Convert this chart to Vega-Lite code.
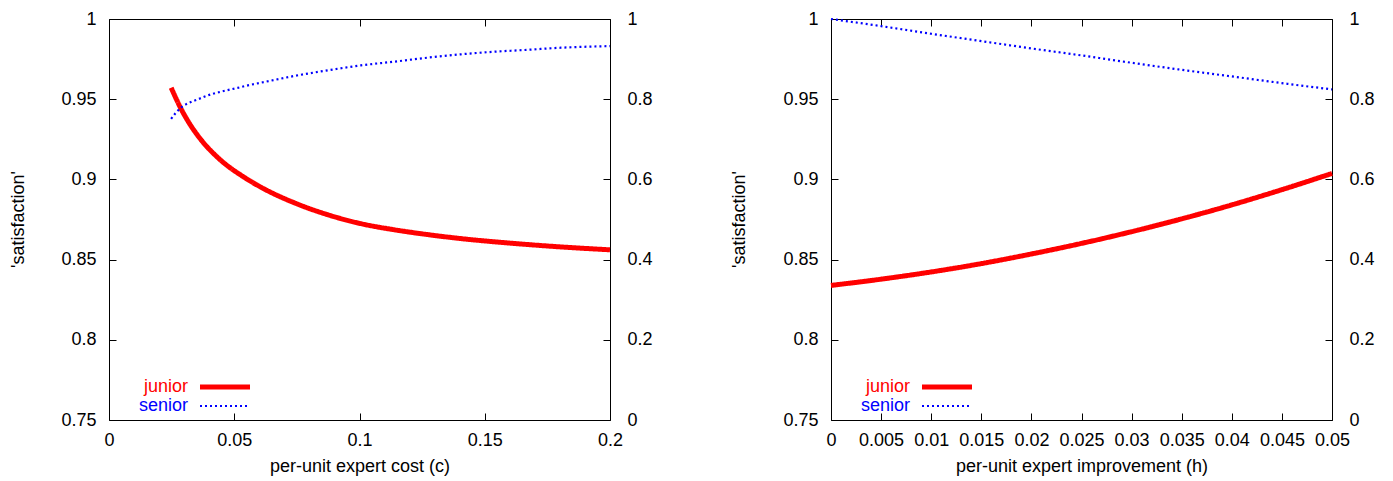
{
  "$schema": "https://vega.github.io/schema/vega-lite/v6.json",
  "padding": {"left": 9, "top": 10, "right": 5, "bottom": 5},
  "background": "white",
  "config": {
    "font": "Liberation Sans",
    "view": {"stroke": null},
    "axis": {
      "labelFont": "Liberation Sans", "labelFontSize": 18, "labelColor": "#000",
      "titleFont": "Liberation Sans", "titleFontSize": 18, "titleFontWeight": "normal", "titleColor": "#000",
      "domainColor": "#000", "domainWidth": 1, "tickColor": "#000", "tickWidth": 1,
      "grid": false, "tickSize": -7, "labelFlush": false, "labelOverlap": false, "labelBound": false
    },
    "legend": {
      "labelFont": "Liberation Sans", "labelFontSize": 18
    }
  },
  "datasets": {
    "curves": [
      {"panel": "c", "series": "junior", "x": 0.0248, "v": 0.9572},
      {"panel": "c", "series": "junior", "x": 0.029, "v": 0.9433},
      {"panel": "c", "series": "junior", "x": 0.0321, "v": 0.9349},
      {"panel": "c", "series": "junior", "x": 0.0367, "v": 0.9248},
      {"panel": "c", "series": "junior", "x": 0.044, "v": 0.9128},
      {"panel": "c", "series": "junior", "x": 0.054, "v": 0.9013},
      {"panel": "c", "series": "junior", "x": 0.0607, "v": 0.8951},
      {"panel": "c", "series": "junior", "x": 0.074, "v": 0.8854},
      {"panel": "c", "series": "junior", "x": 0.0873, "v": 0.878},
      {"panel": "c", "series": "junior", "x": 0.1006, "v": 0.8724},
      {"panel": "c", "series": "junior", "x": 0.1139, "v": 0.8686},
      {"panel": "c", "series": "junior", "x": 0.1272, "v": 0.8656},
      {"panel": "c", "series": "junior", "x": 0.1405, "v": 0.8631},
      {"panel": "c", "series": "junior", "x": 0.1538, "v": 0.8611},
      {"panel": "c", "series": "junior", "x": 0.1671, "v": 0.8594},
      {"panel": "c", "series": "junior", "x": 0.1804, "v": 0.8579},
      {"panel": "c", "series": "junior", "x": 0.2, "v": 0.8561},
      {"panel": "c", "series": "senior", "x": 0.0248, "v": 0.751},
      {"panel": "c", "series": "senior", "x": 0.0267, "v": 0.766},
      {"panel": "c", "series": "senior", "x": 0.0287, "v": 0.7786},
      {"panel": "c", "series": "senior", "x": 0.0307, "v": 0.787},
      {"panel": "c", "series": "senior", "x": 0.0327, "v": 0.7928},
      {"panel": "c", "series": "senior", "x": 0.0354, "v": 0.7995},
      {"panel": "c", "series": "senior", "x": 0.038, "v": 0.806},
      {"panel": "c", "series": "senior", "x": 0.0407, "v": 0.812},
      {"panel": "c", "series": "senior", "x": 0.044, "v": 0.8177},
      {"panel": "c", "series": "senior", "x": 0.0474, "v": 0.8227},
      {"panel": "c", "series": "senior", "x": 0.0514, "v": 0.8284},
      {"panel": "c", "series": "senior", "x": 0.0554, "v": 0.8344},
      {"panel": "c", "series": "senior", "x": 0.0607, "v": 0.8412},
      {"panel": "c", "series": "senior", "x": 0.074, "v": 0.858},
      {"panel": "c", "series": "senior", "x": 0.0873, "v": 0.872},
      {"panel": "c", "series": "senior", "x": 0.1006, "v": 0.8844},
      {"panel": "c", "series": "senior", "x": 0.1139, "v": 0.8936},
      {"panel": "c", "series": "senior", "x": 0.1272, "v": 0.9036},
      {"panel": "c", "series": "senior", "x": 0.1405, "v": 0.912},
      {"panel": "c", "series": "senior", "x": 0.1538, "v": 0.9184},
      {"panel": "c", "series": "senior", "x": 0.1671, "v": 0.9232},
      {"panel": "c", "series": "senior", "x": 0.1804, "v": 0.9284},
      {"panel": "c", "series": "senior", "x": 0.2, "v": 0.9324},
      {"panel": "h", "series": "junior", "x": 0, "v": 0.8339},
      {"panel": "h", "series": "junior", "x": 0.005, "v": 0.8378},
      {"panel": "h", "series": "junior", "x": 0.01, "v": 0.8423},
      {"panel": "h", "series": "junior", "x": 0.015, "v": 0.8475},
      {"panel": "h", "series": "junior", "x": 0.02, "v": 0.8535},
      {"panel": "h", "series": "junior", "x": 0.025, "v": 0.8601},
      {"panel": "h", "series": "junior", "x": 0.03, "v": 0.8674},
      {"panel": "h", "series": "junior", "x": 0.035, "v": 0.8754},
      {"panel": "h", "series": "junior", "x": 0.04, "v": 0.8841},
      {"panel": "h", "series": "junior", "x": 0.045, "v": 0.8936},
      {"panel": "h", "series": "junior", "x": 0.05, "v": 0.9037},
      {"panel": "h", "series": "senior", "x": 0, "v": 1.0},
      {"panel": "h", "series": "senior", "x": 0.005, "v": 0.9823},
      {"panel": "h", "series": "senior", "x": 0.01, "v": 0.9632},
      {"panel": "h", "series": "senior", "x": 0.015, "v": 0.9449},
      {"panel": "h", "series": "senior", "x": 0.02, "v": 0.9266},
      {"panel": "h", "series": "senior", "x": 0.025, "v": 0.9092},
      {"panel": "h", "series": "senior", "x": 0.03, "v": 0.8908},
      {"panel": "h", "series": "senior", "x": 0.035, "v": 0.8733},
      {"panel": "h", "series": "senior", "x": 0.04, "v": 0.8568},
      {"panel": "h", "series": "senior", "x": 0.045, "v": 0.8401},
      {"panel": "h", "series": "senior", "x": 0.05, "v": 0.8244}
    ]
  },
  "spacing": 221,
  "bounds": "flush",
  "resolve": {"scale": {"color": "independent", "strokeDash": "independent", "strokeWidth": "independent"}},
  "hconcat": [
    {
      "width": 501, "height": 401,
      "data": {"name": "curves"},
      "transform": [{"filter": "datum.panel == 'c'"}],
      "layer": [
        {
          "transform": [{"filter": "datum.series == 'junior'"}],
          "mark": {"type": "line", "interpolate": "monotone"},
          "encoding": {
            "x": {"field": "x", "type": "quantitative", "scale": {"domain": [0, 0.2], "nice": false, "zero": false},
              "axis": {"values": [0, 0.05, 0.1, 0.15, 0.2], "format": "~g", "title": "per-unit expert cost (c)", "labelPadding": 18, "titleY": 37, "titleBaseline": "top"}},
            "y": {"field": "v", "type": "quantitative", "scale": {"domain": [0.75, 1], "nice": false, "zero": false},
              "axis": {"orient": "left", "values": [0.75, 0.8, 0.85, 0.9, 0.95, 1], "format": ".2~f", "title": "'satisfaction'", "labelPadding": 20, "titleX": -91, "titleY": 200, "titleBaseline": "middle"}},
            "color": {"field": "series", "type": "nominal", "scale": {"domain": ["junior", "senior"], "range": ["#ff0000", "#0000ff"]},
              "legend": {"title": null, "orient": "none", "legendX": 107, "legendY": 359, "padding": 0, "symbolType": "M-4,0H4", "symbolSize": 156.25, "labelAlign": "right", "labelOffset": -46, "rowPadding": 0, "labelColor": {"expr": "datum.value == 'junior' ? '#ff0000' : '#0000ff'"}}},
            "strokeDash": {"field": "series", "type": "nominal", "scale": {"domain": ["junior", "senior"], "range": [[1, 0], [2, 3]]}},
            "strokeWidth": {"field": "series", "type": "nominal", "scale": {"domain": ["junior", "senior"], "range": [5, 2.2]}}
          }
        },
        {
          "transform": [{"filter": "datum.series == 'senior'"}],
          "mark": {"type": "line", "interpolate": "monotone"},
          "encoding": {
            "x": {"field": "x", "type": "quantitative", "scale": {"domain": [0, 0.2], "nice": false, "zero": false},
              "axis": {"orient": "top", "values": [0, 0.05, 0.1, 0.15, 0.2], "labels": false, "title": null}},
            "y": {"field": "v", "type": "quantitative", "scale": {"domain": [0, 1], "nice": false, "zero": false},
              "axis": {"orient": "right", "values": [0, 0.2, 0.4, 0.6, 0.8, 1], "format": "~g", "title": null, "labelPadding": 24}},
            "color": {"field": "series", "type": "nominal", "scale": {"domain": ["junior", "senior"], "range": ["#ff0000", "#0000ff"]}},
            "strokeDash": {"field": "series", "type": "nominal", "scale": {"domain": ["junior", "senior"], "range": [[1, 0], [2, 3]]}},
            "strokeWidth": {"field": "series", "type": "nominal", "scale": {"domain": ["junior", "senior"], "range": [5, 2.2]}}
          }
        }
      ],
      "resolve": {"scale": {"y": "independent"}, "axis": {"x": "independent", "y": "independent"}}
    },
    {
      "width": 501, "height": 401,
      "data": {"name": "curves"},
      "transform": [{"filter": "datum.panel == 'h'"}],
      "layer": [
        {
          "transform": [{"filter": "datum.series == 'junior'"}],
          "mark": {"type": "line", "interpolate": "monotone"},
          "encoding": {
            "x": {"field": "x", "type": "quantitative", "scale": {"domain": [0, 0.05], "nice": false, "zero": false},
              "axis": {"values": [0, 0.005, 0.01, 0.015, 0.02, 0.025, 0.03, 0.035, 0.04, 0.045, 0.05], "format": "~g", "title": "per-unit expert improvement (h)", "labelPadding": 18, "titleY": 37, "titleBaseline": "top"}},
            "y": {"field": "v", "type": "quantitative", "scale": {"domain": [0.75, 1], "nice": false, "zero": false},
              "axis": {"orient": "left", "values": [0.75, 0.8, 0.85, 0.9, 0.95, 1], "format": ".2~f", "title": "'satisfaction'", "labelPadding": 20, "titleX": -92, "titleY": 200, "titleBaseline": "middle"}},
            "color": {"field": "series", "type": "nominal", "scale": {"domain": ["junior", "senior"], "range": ["#ff0000", "#0000ff"]},
              "legend": {"title": null, "orient": "none", "legendX": 107, "legendY": 359, "padding": 0, "symbolType": "M-4,0H4", "symbolSize": 156.25, "labelAlign": "right", "labelOffset": -46, "rowPadding": 0, "labelColor": {"expr": "datum.value == 'junior' ? '#ff0000' : '#0000ff'"}}},
            "strokeDash": {"field": "series", "type": "nominal", "scale": {"domain": ["junior", "senior"], "range": [[1, 0], [2, 3]]}},
            "strokeWidth": {"field": "series", "type": "nominal", "scale": {"domain": ["junior", "senior"], "range": [5, 2.2]}}
          }
        },
        {
          "transform": [{"filter": "datum.series == 'senior'"}],
          "mark": {"type": "line", "interpolate": "monotone"},
          "encoding": {
            "x": {"field": "x", "type": "quantitative", "scale": {"domain": [0, 0.05], "nice": false, "zero": false},
              "axis": {"orient": "top", "values": [0, 0.005, 0.01, 0.015, 0.02, 0.025, 0.03, 0.035, 0.04, 0.045, 0.05], "labels": false, "title": null}},
            "y": {"field": "v", "type": "quantitative", "scale": {"domain": [0, 1], "nice": false, "zero": false},
              "axis": {"orient": "right", "values": [0, 0.2, 0.4, 0.6, 0.8, 1], "format": "~g", "title": null, "labelPadding": 24}},
            "color": {"field": "series", "type": "nominal", "scale": {"domain": ["junior", "senior"], "range": ["#ff0000", "#0000ff"]}},
            "strokeDash": {"field": "series", "type": "nominal", "scale": {"domain": ["junior", "senior"], "range": [[1, 0], [2, 3]]}},
            "strokeWidth": {"field": "series", "type": "nominal", "scale": {"domain": ["junior", "senior"], "range": [5, 2.2]}}
          }
        }
      ],
      "resolve": {"scale": {"y": "independent"}, "axis": {"x": "independent", "y": "independent"}}
    }
  ]
}
